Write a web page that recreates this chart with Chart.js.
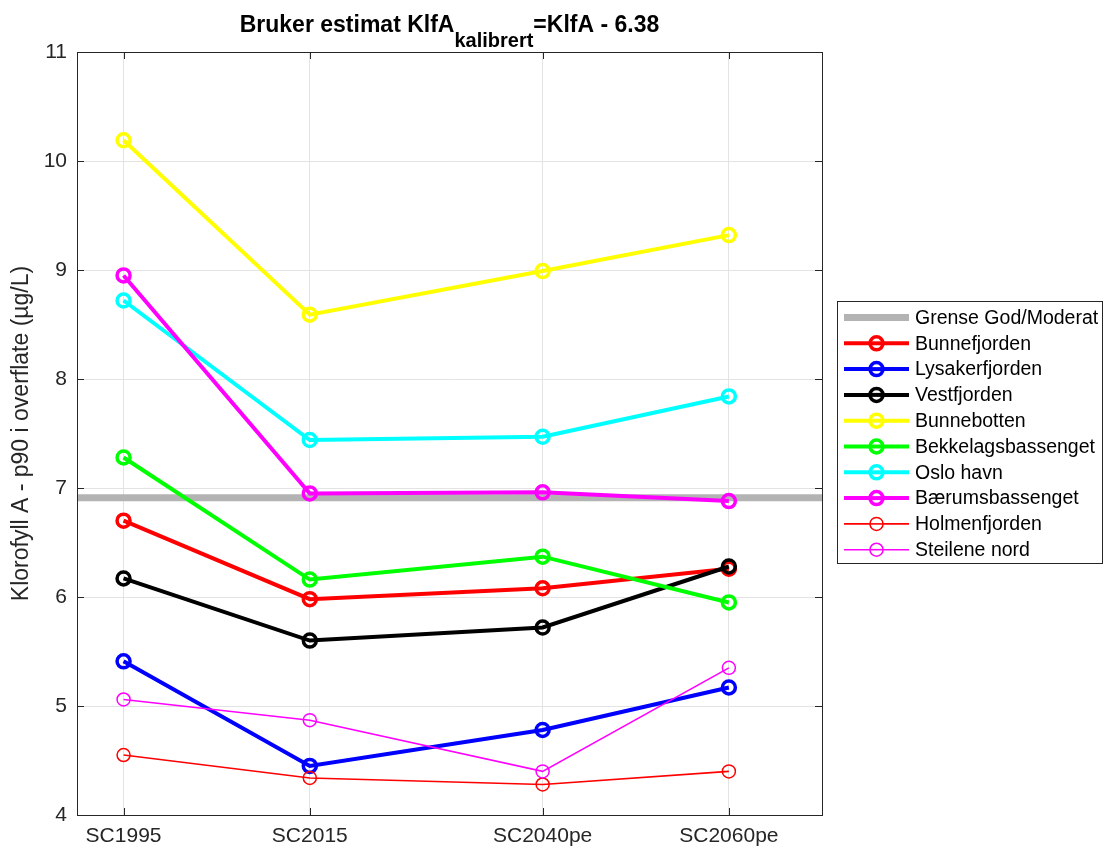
<!DOCTYPE html>
<html>
<head>
<meta charset="utf-8">
<script src="https://cdn.jsdelivr.net/npm/chart.js@4"></script>
<style>
  html, body { margin: 0; padding: 0; background: #fff; }
  #wrap { width: 1107px; height: 850px; position: relative; }
</style>
</head>
<body>
<div id="wrap"><canvas id="klfa" width="1107" height="850"></canvas></div>
<script>
// scenario labels and the year each one sits at on the x axis
const scenarios = ['SC1995', 'SC2015', 'SC2040pe', 'SC2060pe'];
const scenarioYears = [1995, 2015, 2040, 2060];
const xLimits = [1990, 2070];
const yTicks = [4, 5, 6, 7, 8, 9, 10, 11];

const grenseGodModerat = 6.91;

const bunnefjorden = [6.70, 5.98, 6.08, 6.26];
const lysakerfjorden = [5.41, 4.45, 4.78, 5.17];
const vestfjorden = [6.17, 5.60, 5.72, 6.28];
const bunnebotten = [10.19, 8.59, 8.99, 9.32];
const bekkelagsbassenget = [7.28, 6.16, 6.37, 5.95];
const osloHavn = [8.72, 7.44, 7.47, 7.84];
const baerumsbassenget = [8.95, 6.95, 6.96, 6.88];
const holmenfjorden = [4.55, 4.34, 4.28, 4.40];
const steileneNord = [5.06, 4.87, 4.40, 5.35];

const FONT = "'Liberation Sans', Arial, Helvetica, sans-serif";
const AXIS = '#262626';

function pts(vals) {
    return vals.map((v, i) => ({ x: scenarioYears[i], y: v }));
}

function serie(label, vals, color, thick) {
    return {
        label: label,
        data: pts(vals),
        borderColor: color,
        backgroundColor: color,
        borderWidth: thick ? 4 : 1.6,
        pointStyle: 'circle',
        pointRadius: 6.5,
        pointHoverRadius: 6.5,
        pointBorderWidth: thick ? 3.5 : 1.5,
        pointBorderColor: color,
        pointBackgroundColor: 'rgba(0,0,0,0)',
        tension: 0
    };
}

const datasets = [
    {
        label: 'Grense God/Moderat',
        data: xLimits.map(x => ({ x: x, y: grenseGodModerat })),
        borderColor: '#b3b3b3',
        backgroundColor: '#b3b3b3',
        borderWidth: 7,
        pointRadius: 0,
        tension: 0
    },
    serie('Bunnefjorden', bunnefjorden, '#ff0000', true),
    serie('Lysakerfjorden', lysakerfjorden, '#0000ff', true),
    serie('Vestfjorden', vestfjorden, '#000000', true),
    serie('Bunnebotten', bunnebotten, '#ffff00', true),
    serie('Bekkelagsbassenget', bekkelagsbassenget, '#00ff00', true),
    serie('Oslo havn', osloHavn, '#00ffff', true),
    serie('Bærumsbassenget', baerumsbassenget, '#ff00ff', true),
    serie('Holmenfjorden', holmenfjorden, '#ff0000', false),
    serie('Steilene nord', steileneNord, '#ff00ff', false)
];
// later series drawn on top, like the original plot
datasets.forEach((d, i) => { d.order = datasets.length - i; });

// title with subscript
const titlePlugin = {
    id: 'titleSub',
    afterDraw(chart) {
        const ctx = chart.ctx;
        const a = 'Bruker estimat KlfA', sub = 'kalibrert', b = '=KlfA - 6.38';
        ctx.save();
        ctx.fillStyle = '#000';
        ctx.textBaseline = 'alphabetic';
        ctx.font = 'bold 23px ' + FONT;
        const wa = ctx.measureText(a).width, wb = ctx.measureText(b).width;
        ctx.font = 'bold 20px ' + FONT;
        const ws = ctx.measureText(sub).width;
        const cx = (chart.chartArea.left + chart.chartArea.right) / 2;
        let x = cx - (wa + ws + wb) / 2;
        ctx.font = 'bold 23px ' + FONT;
        ctx.fillText(a, x, 32);
        x += wa;
        ctx.font = 'bold 20px ' + FONT;
        ctx.fillText(sub, x, 47);
        x += ws;
        ctx.font = 'bold 23px ' + FONT;
        ctx.fillText(b, x, 32);
        ctx.restore();
    }
};

// axes box with inward tick marks
const framePlugin = {
    id: 'frame',
    afterDraw(chart) {
        const ctx = chart.ctx, ca = chart.chartArea;
        const xs = chart.scales.x, ys = chart.scales.y;
        ctx.save();
        ctx.strokeStyle = AXIS;
        ctx.lineWidth = 1;
        ctx.strokeRect(ca.left + 0.5, ca.top + 0.5, ca.right - ca.left, ca.bottom - ca.top);
        ctx.beginPath();
        xs.ticks.forEach(t => {
            const px = Math.round(xs.getPixelForValue(t.value)) + 0.5;
            ctx.moveTo(px, ca.bottom); ctx.lineTo(px, ca.bottom - 7);
            ctx.moveTo(px, ca.top); ctx.lineTo(px, ca.top + 7);
        });
        ys.ticks.forEach(t => {
            const py = Math.round(ys.getPixelForValue(t.value)) + 0.5;
            ctx.moveTo(ca.left, py); ctx.lineTo(ca.left + 7, py);
            ctx.moveTo(ca.right, py); ctx.lineTo(ca.right - 7, py);
        });
        ctx.stroke();
        ctx.restore();
    }
};

// boxed legend with line + marker samples
const legendPlugin = {
    id: 'boxLegend',
    afterDraw(chart) {
        const ctx = chart.ctx;
        const box = { left: 837.5, top: 301.5, width: 265, height: 262 };
        const rowH = 25.8, firstY = 317.5;
        ctx.save();
        ctx.fillStyle = '#fff';
        ctx.fillRect(box.left, box.top, box.width, box.height);
        ctx.strokeStyle = '#262626';
        ctx.lineWidth = 1;
        ctx.strokeRect(box.left, box.top, box.width, box.height);
        ctx.font = '19.5px ' + FONT;
        ctx.textBaseline = 'middle';
        chart.data.datasets.forEach((ds, i) => {
            const y = firstY + i * rowH;
            ctx.strokeStyle = ds.borderColor;
            ctx.lineWidth = ds.borderWidth;
            ctx.beginPath();
            ctx.moveTo(844, y); ctx.lineTo(909, y);
            ctx.stroke();
            if (ds.pointRadius > 0) {
                ctx.lineWidth = ds.pointBorderWidth;
                ctx.beginPath();
                ctx.arc(876.5, y, ds.pointRadius, 0, Math.PI * 2);
                ctx.fillStyle = '#fff';
                ctx.fill();
                ctx.stroke();
                ctx.beginPath();
                ctx.moveTo(870, y); ctx.lineTo(883, y);
                ctx.lineWidth = ds.borderWidth;
                ctx.stroke();
            }
            ctx.fillStyle = '#000';
            ctx.fillText(ds.label, 915, y + 1);
        });
        ctx.restore();
    }
};

const ctx = document.getElementById('klfa').getContext('2d');
const klfaChart = new Chart(ctx, {
    type: 'line',
    data: { datasets: datasets },
    plugins: [titlePlugin, framePlugin, legendPlugin],
    options: {
        responsive: false,
        animation: false,
        layout: { padding: { top: 52, right: 285, left: 0, bottom: 0 } },
        plugins: {
            legend: { display: false },
            tooltip: { enabled: false }
        },
        scales: {
            x: {
                type: 'linear',
                min: xLimits[0],
                max: xLimits[1],
                afterBuildTicks: s => { s.ticks = scenarioYears.map(v => ({ value: v })); },
                afterFit: s => { s.height = 35; },
                ticks: {
                    callback: v => scenarios[scenarioYears.indexOf(v)],
                    font: { family: FONT, size: 21 },
                    color: AXIS,
                    padding: 9,
                    maxRotation: 0,
                    autoSkip: false
                },
                grid: { color: '#e3e3e3', drawTicks: false },
                border: { display: false }
            },
            y: {
                min: yTicks[0],
                max: yTicks[yTicks.length - 1],
                afterBuildTicks: s => { s.ticks = yTicks.map(v => ({ value: v })); },
                afterFit: s => { s.width = 77; },
                ticks: {
                    font: { family: FONT, size: 21 },
                    color: AXIS,
                    padding: 10
                },
                title: {
                    display: true,
                    text: 'Klorofyll A - p90 i overflate (µg/L)',
                    font: { family: FONT, size: 23 },
                    color: AXIS,
                    padding: { top: 8, bottom: 0 }
                },
                grid: { color: '#e3e3e3', drawTicks: false },
                border: { display: false }
            }
        }
    }
});
</script>
</body>
</html>
